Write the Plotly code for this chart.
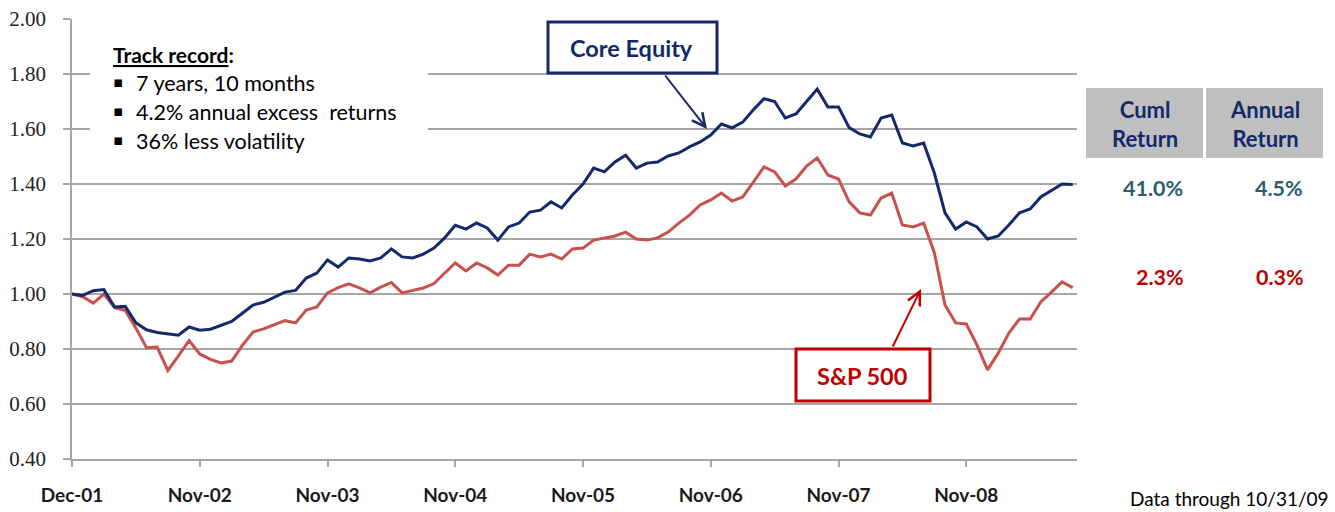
import plotly.graph_objects as go

# ---- data (monthly growth of $1, Dec-01 .. Oct-09) ----
core_equity = [1.000, 0.995, 1.012, 1.016, 0.953, 0.955, 0.895, 0.870, 0.860, 0.855,
               0.850, 0.880, 0.868, 0.872, 0.885, 0.900, 0.930, 0.960, 0.970, 0.990,
               1.007, 1.013, 1.058, 1.076, 1.124, 1.098, 1.131, 1.127, 1.120, 1.131,
               1.164, 1.135, 1.131, 1.145, 1.167, 1.204, 1.250, 1.236, 1.258, 1.240,
               1.196, 1.244, 1.258, 1.298, 1.305, 1.335, 1.313, 1.360, 1.400, 1.458,
               1.444, 1.480, 1.505, 1.458, 1.476, 1.480, 1.502, 1.513, 1.535, 1.553,
               1.578, 1.618, 1.604, 1.625, 1.670, 1.710, 1.700, 1.640, 1.655, 1.700,
               1.745, 1.680, 1.680, 1.605, 1.582, 1.571, 1.640, 1.651, 1.549, 1.538,
               1.549, 1.440, 1.295, 1.236, 1.262, 1.244, 1.200, 1.211, 1.251, 1.295,
               1.309, 1.353, 1.375, 1.400, 1.398]
sp500 = [1.000, 0.990, 0.967, 1.000, 0.950, 0.940, 0.876, 0.805, 0.807, 0.722,
         0.775, 0.831, 0.782, 0.762, 0.749, 0.756, 0.813, 0.862, 0.873, 0.887,
         0.903, 0.895, 0.942, 0.953, 1.004, 1.023, 1.037, 1.022, 1.004, 1.025,
         1.042, 1.004, 1.012, 1.022, 1.038, 1.076, 1.113, 1.084, 1.113, 1.095,
         1.069, 1.105, 1.105, 1.145, 1.135, 1.145, 1.127, 1.164, 1.167, 1.196,
         1.204, 1.211, 1.225, 1.200, 1.196, 1.204, 1.225, 1.258, 1.287, 1.324,
         1.342, 1.367, 1.338, 1.353, 1.407, 1.462, 1.444, 1.393, 1.418, 1.465,
         1.495, 1.433, 1.418, 1.335, 1.295, 1.287, 1.349, 1.367, 1.251, 1.244,
         1.258, 1.150, 0.960, 0.895, 0.891, 0.815, 0.724, 0.785, 0.858, 0.909,
         0.909, 0.971, 1.007, 1.044, 1.023]
month_index = list(range(len(core_equity)))
tick_positions = [0, 12, 24, 36, 48, 60, 72, 84]
tick_labels = ["Dec-01", "Nov-02", "Nov-03", "Nov-04", "Nov-05", "Nov-06", "Nov-07", "Nov-08"]
y_ticks = [0.40, 0.60, 0.80, 1.00, 1.20, 1.40, 1.60, 1.80, 2.00]

bullets = ["7 years, 10 months", "4.2% annual excess  returns", "36% less volatility"]
table_headers = ["Cuml<br>Return", "Annual<br>Return"]
core_stats = ["41.0%", "4.5%"]
sp_stats = ["2.3%", "0.3%"]

NAVY = "#13296b"
RED_LINE = "#c8504d"
RED = "#c00000"
TEAL = "#2b5d6b"
GRID = "#a6a6a6"
SANS = "Lato"

W, H = 1335, 512
L, R, T, B = 72, 1077, 19, 459   # plot area in page pixels


def px(x):
    return (x - L) / (R - L)


def py(y):
    return (B - y) / (B - T)


fig = go.Figure()
fig.add_trace(go.Scatter(x=month_index, y=sp500, mode="lines",
                         line=dict(color=RED_LINE, width=3), name="S&P 500"))
fig.add_trace(go.Scatter(x=month_index, y=core_equity, mode="lines",
                         line=dict(color=NAVY, width=3), name="Core Equity"))

shapes = []
annotations = []

# white box behind track record text
shapes.append(dict(type="rect", xref="paper", yref="paper", layer="above",
                   x0=px(90), x1=px(428), y0=py(158), y1=py(32),
                   fillcolor="white", line=dict(width=0)))
annotations.append(dict(xref="paper", yref="paper", x=px(111), y=py(55),
                        xanchor="left", yanchor="middle", showarrow=False,
                        text="<b><u>Track record</u>:</b>",
                        font=dict(family=SANS, size=21, color="#000")))
for k, b in enumerate(bullets):
    yy = 83 + k * 29
    annotations.append(dict(xref="paper", yref="paper", x=px(111), y=py(yy - 1),
                            xanchor="left", yanchor="middle", showarrow=False,
                            text="▪", font=dict(family="DejaVu Sans", size=15, color="#000")))
    annotations.append(dict(xref="paper", yref="paper", x=px(134), y=py(yy),
                            xanchor="left", yanchor="middle", showarrow=False,
                            text=b.replace("  ", "&nbsp; "),
                            font=dict(family=SANS, size=21.5, color="#000")))

# Core Equity callout
shapes.append(dict(type="rect", xref="paper", yref="paper", layer="above",
                   x0=px(548), x1=px(717), y0=py(73), y1=py(22),
                   fillcolor="white", line=dict(color=NAVY, width=3)))
annotations.append(dict(xref="paper", yref="paper", x=px(631), y=py(48),
                        xanchor="center", yanchor="middle", showarrow=False,
                        text="<b>Core Equity</b>",
                        font=dict(family=SANS, size=23.5, color=NAVY)))
annotations.append(dict(xref="paper", yref="paper", x=px(707), y=py(129),
                        ax=-43, ay=-55, text="", showarrow=True,
                        arrowhead=5, arrowsize=1.3, arrowwidth=2, arrowcolor=NAVY))

# S&P 500 callout
shapes.append(dict(type="rect", xref="paper", yref="paper", layer="above",
                   x0=px(796), x1=px(930), y0=py(401), y1=py(349),
                   fillcolor="white", line=dict(color=RED, width=3)))
annotations.append(dict(xref="paper", yref="paper", x=px(862), y=py(376),
                        xanchor="center", yanchor="middle", showarrow=False,
                        text="<b>S&amp;P 500</b>",
                        font=dict(family=SANS, size=23.5, color=RED)))
annotations.append(dict(xref="paper", yref="paper", x=px(921), y=py(289),
                        ax=-29, ay=59, text="", showarrow=True,
                        arrowhead=5, arrowsize=1.3, arrowwidth=2, arrowcolor=RED))

# return table
cells = [(1086, 1203), (1206, 1323)]
for (x0, x1), head in zip(cells, table_headers):
    shapes.append(dict(type="rect", xref="paper", yref="paper", layer="above",
                       x0=px(x0), x1=px(x1), y0=py(158), y1=py(88),
                       fillcolor="#bfbfbf", line=dict(width=0)))
    annotations.append(dict(xref="paper", yref="paper", x=px((x0 + x1) / 2), y=py(124),
                            xanchor="center", yanchor="middle", showarrow=False,
                            text="<b>" + head + "</b>",
                            font=dict(family=SANS, size=22, color=NAVY)))
core_x = [1153, 1279]
sp_x = [1160, 1280]
for xc, cs in zip(core_x, core_stats):
    annotations.append(dict(xref="paper", yref="paper", x=px(xc), y=py(188),
                            xanchor="center", yanchor="middle", showarrow=False,
                            text="<b>" + cs + "</b>",
                            font=dict(family=SANS, size=21.5, color=TEAL)))
for xc, ss in zip(sp_x, sp_stats):
    annotations.append(dict(xref="paper", yref="paper", x=px(xc), y=py(277),
                            xanchor="center", yanchor="middle", showarrow=False,
                            text="<b>" + ss + "</b>",
                            font=dict(family=SANS, size=21.5, color=RED)))

annotations.append(dict(xref="paper", yref="paper", x=px(1331), y=py(499),
                        xanchor="right", yanchor="middle", showarrow=False,
                        text="Data through 10/31/09",
                        font=dict(family=SANS, size=19, color="#000")))

fig.update_layout(
    width=W, height=H,
    margin=dict(l=L, r=W - R, t=T, b=H - B, pad=0, autoexpand=False),
    paper_bgcolor="white", plot_bgcolor="white",
    showlegend=False,
    shapes=shapes, annotations=annotations,
    xaxis=dict(range=[0, 94.4], tickvals=tick_positions, ticktext=tick_labels,
               automargin=False, ticklabeloverflow="allow",
               showgrid=False, zeroline=False, showline=True, linecolor=GRID, linewidth=1.5,
               ticks="outside", ticklen=6, tickcolor=GRID, tickwidth=1.5,
               ticklabelstandoff=12,
               tickfont=dict(family=SANS, size=19, color="#1a1a1a", weight="bold")),
    yaxis=dict(range=[0.4, 2.0], tickvals=y_ticks, tickformat=".2f",
               automargin=False, ticklabeloverflow="allow",
               showgrid=True, gridcolor=GRID, gridwidth=1.5, zeroline=False,
               showline=True, linecolor=GRID, linewidth=1.5,
               ticks="outside", ticklen=7, tickcolor=GRID, tickwidth=1.5,
               ticklabelstandoff=13,
               tickfont=dict(family="Liberation Serif", size=21, color="#222")),
)

fig.write_html("out.html", config={"displayModeBar": False},
               post_script="document.body.style.margin='0';document.body.style.overflow='hidden';")
